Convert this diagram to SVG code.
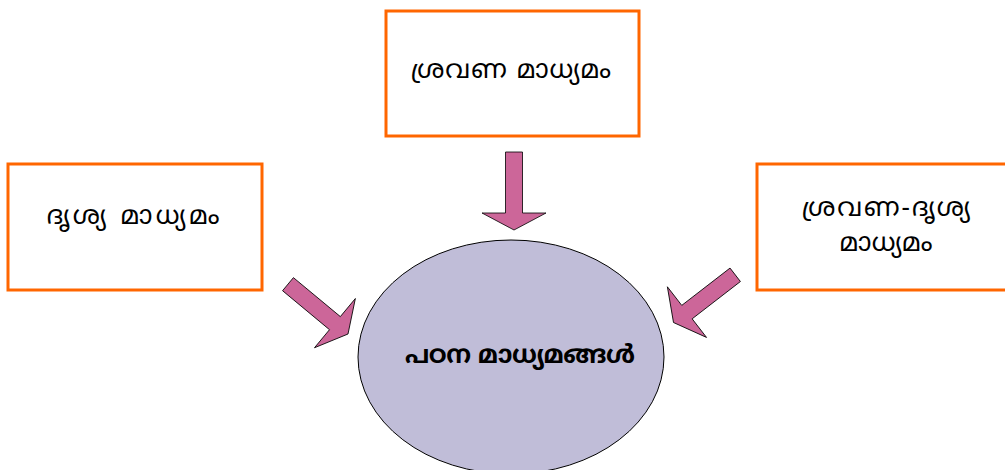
<svg xmlns="http://www.w3.org/2000/svg" width="1005" height="470" viewBox="0 0 1005 470">
  <style>
    .box { fill: #ffffff; stroke: #ff6600; stroke-width: 3; }
    .lbl { font-family: "Noto Sans Malayalam", "Noto Sans", "DejaVu Sans", sans-serif; font-size: 26px; fill: #000000; text-anchor: middle; dominant-baseline: central; }
    .hub { fill: #c0bdd8; stroke: #000000; stroke-width: 1; }
    .hubtext { font-weight: bold; font-size: 25px; }
    .arrow { fill: #cc6699; stroke: #000000; stroke-width: 0.8; }
  </style>
  <defs>
    <!-- block arrow pointing down, tip at origin -->
    <path id="blockArrow" d="M -8.5 -78 L 8.5 -78 L 8.5 -17 L 32 -17 L 0 0 L -32 -17 L -8.5 -17 Z"/>
  </defs>

  <g id="connectors">
    <use href="#blockArrow" class="arrow" transform="translate(514 230)"/>
    <use href="#blockArrow" class="arrow" transform="translate(348 334) rotate(-50.3)"/>
    <use href="#blockArrow" class="arrow" transform="translate(673.5 322.5) rotate(52.3)"/>
  </g>

  <g id="node-hub">
    <ellipse class="hub" cx="511" cy="357" rx="153" ry="117"/>
    <text class="lbl hubtext" x="520" y="357" textLength="230" lengthAdjust="spacing">പഠന മാധ്യമങ്ങൾ</text>
  </g>

  <g id="node-audio">
    <rect class="box" x="386" y="11" width="253" height="125"/>
    <text class="lbl" x="511" y="72" textLength="200" lengthAdjust="spacing">ശ്രവണ മാധ്യമം</text>
  </g>

  <g id="node-visual">
    <rect class="box" x="8" y="164" width="254" height="126"/>
    <text class="lbl" x="133" y="218" textLength="173" lengthAdjust="spacing">ദൃശ്യ മാധ്യമം</text>
  </g>

  <g id="node-audiovisual">
    <rect class="box" x="757" y="164" width="256" height="126"/>
    <text class="lbl" x="886" y="210" textLength="168" lengthAdjust="spacing">ശ്രവണ-ദൃശ്യ</text>
    <text class="lbl" x="886" y="245" textLength="93" lengthAdjust="spacing">മാധ്യമം</text>
  </g>
</svg>
